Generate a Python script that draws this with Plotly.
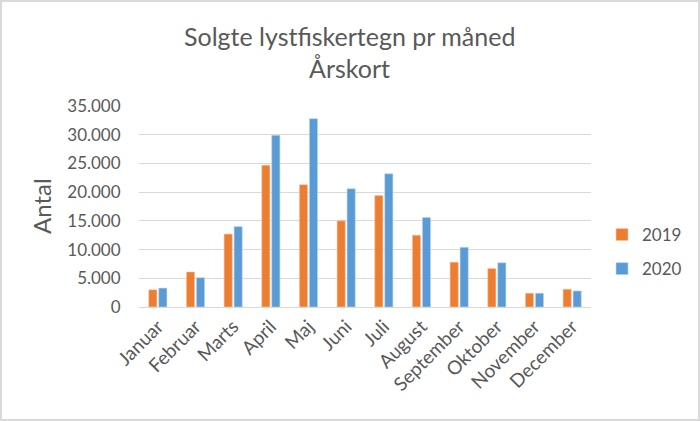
import plotly.graph_objects as go

months = ["Januar", "Februar", "Marts", "April", "Maj", "Juni", "Juli",
          "August", "September", "Oktober", "November", "December"]
values_2019 = [3000, 6100, 12700, 24700, 21300, 15000, 19400, 12500, 7800, 6700, 2400, 3100]
values_2020 = [3300, 5100, 14000, 29900, 32800, 20600, 23200, 15600, 10400, 7700, 2400, 2800]
y_ticks = [0, 5000, 10000, 15000, 20000, 25000, 30000, 35000]
title_lines = ["Solgte lystfiskertegn pr måned", "Årskort"]

W, H = 700, 421
L, R, T, B = 139, 109, 106, 114
pw, ph = W - L - R, H - T - B
FONT = "Lato"
GREY = "#595959"


def px_x(x):
    return (x - L) / pw


def px_y(y):
    return 1 - (y - T) / ph


fig = go.Figure()
fig.add_trace(go.Bar(x=months, y=values_2019, name="2019", legendgroup="a",
                     marker=dict(color="#ED7D31", line=dict(color="#F8C9A8", width=0.6))))
fig.add_trace(go.Bar(x=months, y=values_2020, name="2020", legendgroup="b",
                     marker=dict(color="#5B9BD5", line=dict(color="#BDD7EE", width=0.6))))

annotations = [
    dict(text=title_lines[0], xref="paper", yref="paper", x=px_x(349), y=px_y(36),
         xanchor="center", yanchor="middle", showarrow=False,
         font=dict(family=FONT, size=25, color=GREY)),
    dict(text=title_lines[1], xref="paper", yref="paper", x=px_x(349), y=px_y(68),
         xanchor="center", yanchor="middle", showarrow=False,
         font=dict(family=FONT, size=25, color=GREY)),
    dict(text="Antal", xref="paper", yref="paper", x=px_x(41), y=px_y(206),
         textangle=-90, xanchor="center", yanchor="middle", showarrow=False,
         font=dict(family=FONT, size=24, color=GREY)),
]

fig.update_layout(
    width=W, height=H, autosize=False,
    margin=dict(l=L, r=R, t=T, b=B, autoexpand=False),
    paper_bgcolor="white", plot_bgcolor="white",
    separators=",.",
    barmode="group", bargap=0.47, bargroupgap=0.18,
    font=dict(family=FONT, color=GREY, size=17),
    legend=dict(xref="container", yref="container", x=602 / W, xanchor="left",
                y=1 - 252 / H, yanchor="middle",
                font=dict(size=17, color=GREY), tracegroupgap=9,
                bgcolor="rgba(0,0,0,0)"),
    xaxis=dict(tickangle=-45, showgrid=False, showline=True, linecolor="#D9D9D9",
               linewidth=1, ticks="", automargin=False,
               tickfont=dict(size=19, color=GREY)),
    yaxis=dict(range=[0, 35000], tickvals=y_ticks, tickformat=",d", automargin=False,
               showgrid=True, gridcolor="#D9D9D9", gridwidth=1, zeroline=False,
               ticks="outside", ticklen=14, tickcolor="rgba(0,0,0,0)",
               showline=False, tickfont=dict(size=17, color=GREY)),
    annotations=annotations,
    shapes=[dict(type="rect", xref="paper", yref="paper",
                 x0=px_x(1), x1=px_x(W - 1), y0=px_y(H - 1), y1=px_y(1),
                 line=dict(color="#D9D9D9", width=2), fillcolor="rgba(0,0,0,0)")],
)

fig.write_html("out.html", config={"displayModeBar": False, "responsive": False},
               post_script="document.body.style.margin='0';document.body.style.padding='0';"
                           "document.body.style.overflow='hidden';")
